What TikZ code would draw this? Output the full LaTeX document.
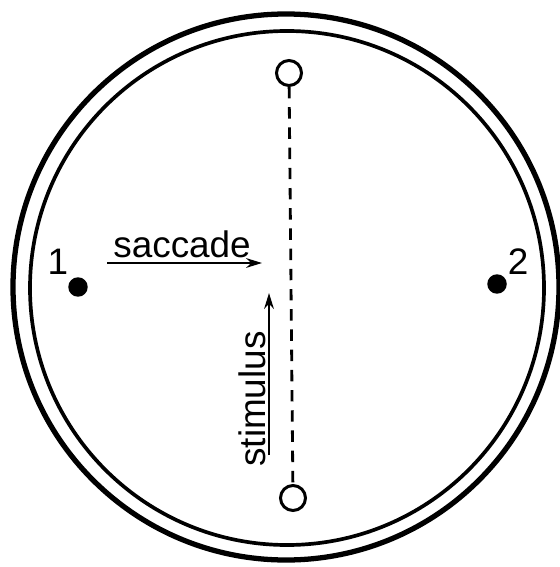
\documentclass[tikz,border=0pt]{standalone}
\usepackage{fontspec}
\setmainfont{Liberation Sans}
\usetikzlibrary{arrows.meta}

\tikzset{
  ring/.style={circle, draw, line width=1.7pt, minimum size=0.5cm, inner sep=0pt},
  fixdot/.style={circle, fill, minimum size=0.39cm, inner sep=0pt},
  lbl/.style={inner sep=0pt, font=\fontsize{21}{24}\selectfont},
  gapline/.style={line width=1.6pt, dash pattern=on 6.5pt off 5pt},
  move/.style={->, line width=1.5pt}
}

\begin{document}
\begin{tikzpicture}[x=0.02cm, y=-0.02cm, >={Stealth[length=9pt,width=5.5pt]}]
  \useasboundingbox (0,0) rectangle (559,567);
  % ------- screen rim (double circle) -------
  \draw[line width=3pt] (286,287) circle[radius=273];
  \draw[line width=2.1pt] (287,288) circle[radius=257];
  % ------- stimulus path: open circles, dashed between -------
  \node[ring] (top) at (289,73) {};
  \node[ring] (bot) at (293,498) {};
  \draw[gapline] (top) -- (bot);
  % ------- fixation points -------
  \node[fixdot] (f1) at (78,287) {};
  \node[fixdot] (f2) at (497,284) {};
  \node[lbl] (n1) at (58,262) {1};
  \node[lbl] (n2) at (518,262) {2};
  % ------- saccade arrow, text above -------
  \node[lbl, anchor=base west] (sac) at (113,257) {saccade};
  \coordinate (s0) at (107,263);
  \coordinate (s1) at (262,263);
  \draw[move] (s0) -- (s1);
  % ------- stimulus arrow, text turned up -------
  \node[lbl, rotate=90, anchor=base west] (stim) at (265,467) {stimulus};
  \coordinate (t0) at (269,455);
  \coordinate (t1) at (269,293);
  \draw[move] (t0) -- (t1);
\end{tikzpicture}
\end{document}
